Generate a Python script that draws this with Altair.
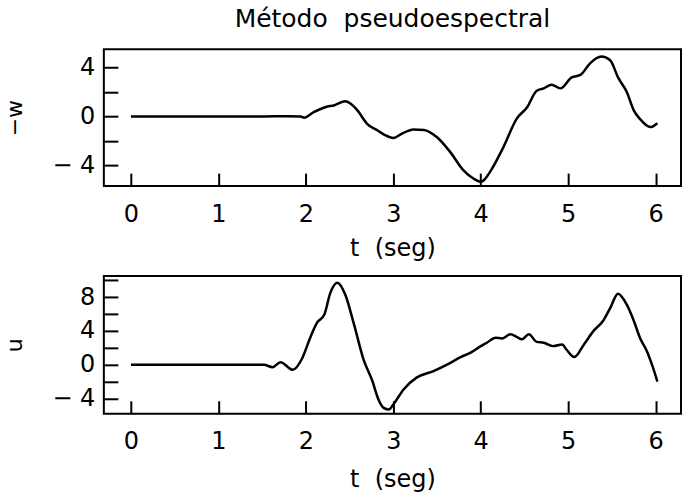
import altair as alt
import pandas as pd

# ---- data ----
t_w = [0, 0.5, 1.0, 1.5, 1.8, 1.94, 1.98, 2.09, 2.24, 2.32, 2.45, 2.52, 2.59, 2.70, 2.82, 2.90,
       3.0, 3.1, 3.23, 3.35, 3.5, 3.65, 3.80, 3.92, 4.0, 4.05, 4.11, 4.26, 4.41, 4.53, 4.64,
       4.72, 4.81, 4.91, 5.04, 5.14, 5.25, 5.38, 5.48, 5.57, 5.67, 5.75, 5.82, 5.94, 6.02]
w_neg = [0, 0, 0, 0, 0.02, 0, -0.1, 0.35, 0.8, 0.9, 1.25, 1.0, 0.5, -0.6, -1.15, -1.5,
         -1.76, -1.4, -1.06, -1.1, -1.7, -2.9, -4.4, -5.1, -5.35, -5.1, -4.5, -2.5, -0.2, 0.76, 2.1,
         2.3, 2.6, 2.3, 3.2, 3.4, 4.35, 4.9, 4.6, 3.2, 2.0, 0.5, -0.2, -0.87, -0.55]

t_u = [0, 0.5, 1.0, 1.52, 1.62, 1.71, 1.85, 1.96, 2.05, 2.13, 2.21, 2.28, 2.36, 2.45, 2.55,
       2.66, 2.76, 2.83, 2.89, 2.95, 3.0, 3.12, 3.27, 3.46, 3.62, 3.77, 3.88, 4.0, 4.07, 4.17,
       4.24, 4.34, 4.41, 4.47, 4.55, 4.64, 4.72, 4.83, 4.93, 4.98, 5.07, 5.18, 5.29, 5.40, 5.48,
       5.57, 5.67, 5.75, 5.82, 5.90, 5.97, 6.02]
u_vals = [0, 0, 0, 0, -0.3, 0.3, -0.6, 0.8, 3.2, 5.0, 5.9, 8.5, 9.7, 8.3, 4.8,
          0.6, -1.9, -4.1, -5.1, -5.3, -4.7, -2.9, -1.5, -0.75, 0.04, 0.9, 1.4, 2.2, 2.6, 3.2,
          3.1, 3.6, 3.3, 3.0, 3.6, 2.7, 2.6, 2.2, 2.4, 1.8, 0.9, 2.4, 4.0, 5.2, 6.7,
          8.4, 7.1, 5.2, 3.2, 1.6, -0.35, -2.0]

x_ticks = [0, 1, 2, 3, 4, 5, 6]
w_ticks = [-4, -2, 0, 2, 4]
u_ticks = [-4, -2, 0, 2, 4, 6, 8, 10]

title_text = "Método\u00a0\u00a0pseudoespectral"
x_title = "t\u00a0\u00a0(seg)"
w_title = "\u2212w"
u_title = "u"

FONT = "DejaVu Sans"
LABEL_EXPR = "datum.value % 4 != 0 ? '' : (datum.value < 0 ? '\u2212\u00a0' + abs(datum.value) : datum.label)"

df_w = pd.DataFrame({"t": t_w, "v": w_neg})
df_u = pd.DataFrame({"t": t_u, "v": u_vals})


def x_enc(title_pad):
    return alt.X(
        "t:Q",
        scale=alt.Scale(domain=[-0.31, 6.29], nice=False, zero=False),
        axis=alt.Axis(
            values=x_ticks, format="d", offset=-13, tickSize=13, tickWidth=2,
            tickColor="black", domain=False, grid=False, labelPadding=16,
            labelFontSize=24, labelFont=FONT, labelColor="black", labelFlush=False,
            title=x_title, titleFontSize=24, titleFont=FONT, titleFontWeight="normal",
            titleColor="black", titlePadding=title_pad,
        ),
    )


def y_enc(domain, ticks, title):
    return alt.Y(
        "v:Q",
        scale=alt.Scale(domain=domain, nice=False, zero=False),
        axis=alt.Axis(
            values=ticks, labelExpr=LABEL_EXPR, offset=-14, tickSize=14, tickWidth=2,
            tickColor="black", domain=False, grid=False, labelPadding=9,
            labelFontSize=24, labelFont=FONT, labelColor="black", labelFlush=False,
            title=title, titleFontSize=22, titleFont=FONT, titleFontWeight="normal",
            titleColor="black", titlePadding=25,
        ),
    )


top = (
    alt.Chart(df_w, title=alt.Title(title_text, fontSize=25, font=FONT,
                                    fontWeight="normal", color="black",
                                    anchor="middle", offset=17))
    .mark_line(color="black", strokeWidth=2.5, interpolate="monotone")
    .encode(x=x_enc(11), y=y_enc([-5.7, 5.5], w_ticks, w_title))
    .properties(width=578, height=137)
)

bottom = (
    alt.Chart(df_u)
    .mark_line(color="black", strokeWidth=2.5, interpolate="monotone")
    .encode(x=x_enc(14), y=y_enc([-5.8, 10.5], u_ticks, u_title))
    .properties(width=578, height=138)
)

chart = (
    alt.vconcat(top, bottom, spacing=13)
    .properties(padding={"left": 2, "top": 6, "right": 0, "bottom": 0}, background="white")
    .configure_view(stroke="black", strokeWidth=2)
)

chart.save("out.html", embed_options={"renderer": "svg", "actions": False})
